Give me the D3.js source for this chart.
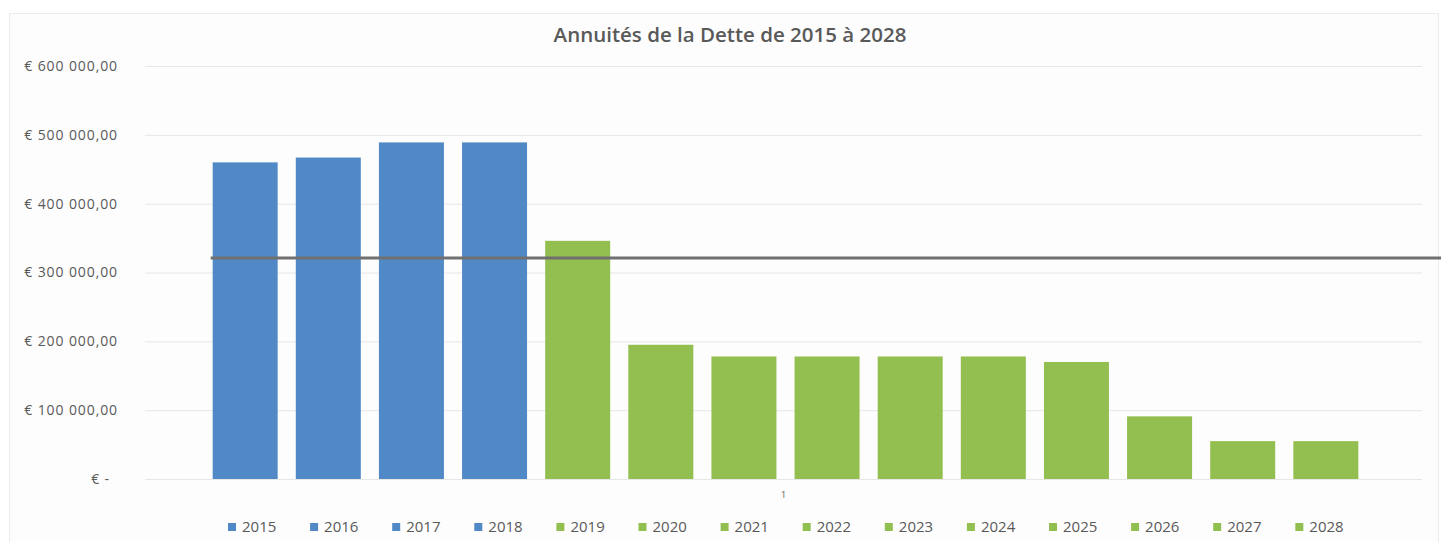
<!DOCTYPE html>
<html>
<head>
<meta charset="utf-8">
<script src="https://cdn.jsdelivr.net/npm/d3@7"></script>
<style>
  body { margin: 0; background: #fff; }
  text { font-family: "Open Sans", sans-serif; fill: #595959; }
</style>
</head>
<body>
<div id="chart"></div>
<script>
// annuités par année (en euros)
const annees = ["2015", "2016", "2017", "2018", "2019", "2020", "2021",
                "2022", "2023", "2024", "2025", "2026", "2027", "2028"];
const annuites = [460000, 467000, 489000, 489000, 346000, 195000, 178000,
                  178000, 178000, 178000, 170000, 91000, 55000, 55000];
const couleurs = ["#5189c6", "#5189c6", "#5189c6", "#5189c6", "#92bf4f", "#92bf4f", "#92bf4f",
                  "#92bf4f", "#92bf4f", "#92bf4f", "#92bf4f", "#92bf4f", "#92bf4f", "#92bf4f"];
const yTicks = [0, 100000, 200000, 300000, 400000, 500000, 600000];
const seuil = 321000; // trait horizontal gris
const titre = "Annuités de la Dette de 2015 à 2028";
const categorie = "1";

function createChart() {
    const width = 1441;
    const height = 542;
    const margin = { top: 66, right: 19, bottom: 63, left: 145 };

    const svg = d3.select("#chart")
        .append("svg")
        .attr("width", width)
        .attr("height", height);

    // cadre du graphique
    svg.append("rect")
        .attr("x", 9.5)
        .attr("y", 13.5)
        .attr("width", 1429)
        .attr("height", 540)
        .attr("fill", "#fdfdfd")
        .attr("stroke", "#ececec");

    const y = d3.scaleLinear()
        .domain([0, 600000])
        .range([height - margin.bottom, margin.top]);

    const x = d3.scaleBand()
        .domain(annees)
        .range([margin.left + 2, width - margin.right + 2])
        .paddingInner(0.218)
        .paddingOuter(0.79);

    // quadrillage
    svg.append("g")
        .attr("transform", "translate(" + margin.left + ",0)")
        .call(d3.axisLeft(y).tickValues(yTicks).tickSize(-(width - margin.left - margin.right)).tickFormat(""))
        .call(function(g) { g.select(".domain").remove(); })
        .selectAll("line")
        .attr("stroke", "#e6e6e6");

    // étiquettes axe Y
    const fmt = function(d) {
        if (d === 0) return "€ -";
        const s = d3.format(",.2f")(d).replace(/,/g, " ").replace(".", ",");
        return "€ " + s;
    };
    svg.append("g")
        .attr("transform", "translate(118,0)")
        .call(d3.axisLeft(y).tickValues(yTicks).tickSize(0).tickPadding(0).tickFormat(fmt))
        .call(function(g) { g.select(".domain").remove(); })
        .selectAll("text")
        .attr("dx", function(d) { return d === 0 ? -8 : 0; })
        .style("font-size", "14px")
        .style("letter-spacing", "0.9px")
        .style("font-family", "'Open Sans', sans-serif")
        .attr("fill", "#595959");

    // barres
    svg.selectAll("rect.bar")
        .data(annuites)
        .enter().append("rect")
        .attr("class", "bar")
        .attr("x", function(d, i) { return x(annees[i]); })
        .attr("y", function(d) { return y(d); })
        .attr("width", x.bandwidth())
        .attr("height", function(d) { return y(0) - y(d); })
        .attr("fill", function(d, i) { return couleurs[i]; });

    // trait horizontal
    svg.append("line")
        .attr("x1", x(annees[0]) - 2)
        .attr("x2", width)
        .attr("y1", y(seuil))
        .attr("y2", y(seuil))
        .attr("stroke", "#707070")
        .attr("stroke-width", 3);

    // libellé de catégorie
    svg.append("text")
        .attr("x", (margin.left + width - margin.right) / 2)
        .attr("y", y(0) + 19)
        .attr("text-anchor", "middle")
        .style("font-size", "9px")
        .text(categorie);

    // titre
    svg.append("text")
        .attr("x", 730)
        .attr("y", 42)
        .attr("text-anchor", "middle")
        .style("font-size", "20.5px")
        .style("font-weight", "600")
        .text(titre);

    // légende
    const legend = svg.selectAll("g.leg")
        .data(annees)
        .enter().append("g")
        .attr("class", "leg")
        .attr("transform", function(d, i) { return "translate(" + (228 + i * 82.1) + ",527)"; });

    legend.append("rect")
        .attr("x", 0)
        .attr("y", -4)
        .attr("width", 8)
        .attr("height", 8)
        .attr("fill", function(d, i) { return couleurs[i]; });

    legend.append("text")
        .attr("x", 14)
        .attr("y", 0)
        .attr("dy", "0.35em")
        .style("font-size", "15px")
        .text(function(d) { return d; });
}

document.addEventListener("DOMContentLoaded", createChart);
</script>
</body>
</html>
